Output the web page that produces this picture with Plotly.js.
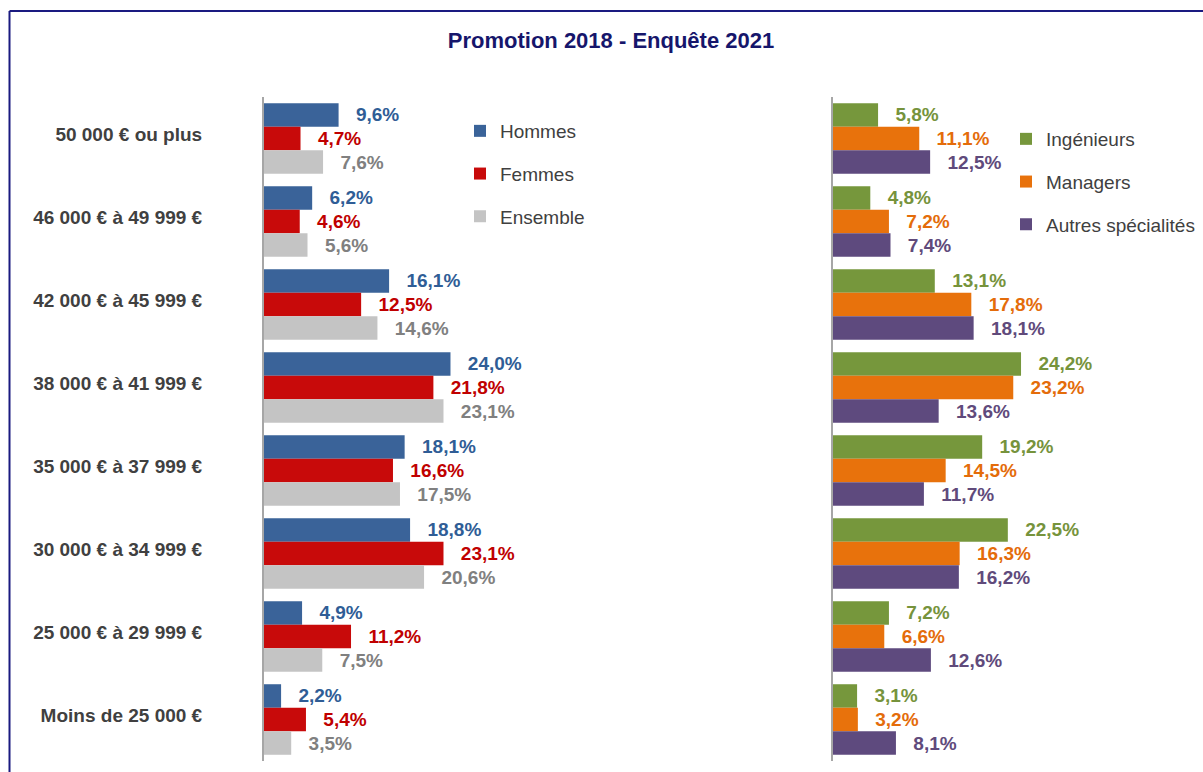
<!DOCTYPE html>
<html><head><meta charset="utf-8">
<script src="https://cdn.plot.ly/plotly-3.0.1.min.js"></script>
<style>html,body{margin:0;padding:0;background:#fff}#chart{width:1203px;height:772px}</style>
</head><body><div id="chart"></div>
<script>
// ---- data ----
const categories = ["50 000 € ou plus","46 000 € à 49 999 €","42 000 € à 45 999 €","38 000 € à 41 999 €","35 000 € à 37 999 €","30 000 € à 34 999 €","25 000 € à 29 999 €","Moins de 25 000 €"];
const hommes     = [9.6, 6.2, 16.1, 24.0, 18.1, 18.8, 4.9, 2.2];
const femmes     = [4.7, 4.6, 12.5, 21.8, 16.6, 23.1, 11.2, 5.4];
const ensemble   = [7.6, 5.6, 14.6, 23.1, 17.5, 20.6, 7.5, 3.5];
const ingenieurs = [5.8, 4.8, 13.1, 24.2, 19.2, 22.5, 7.2, 3.1];
const managers   = [11.1, 7.2, 17.8, 23.2, 14.5, 16.3, 6.6, 3.2];
const autres     = [12.5, 7.4, 18.1, 13.6, 11.7, 16.2, 12.6, 8.1];
const leftNames  = ["Hommes", "Femmes", "Ensemble"];
const rightNames = ["Ingénieurs", "Managers", "Autres spécialités"];
const titleText  = "Promotion 2018 - Enquête 2021";

// ---- layout helpers ----
const W = 1203, H = 772;
const fx = p => p / W;
const fy = p => 1 - p / H;
const SCALE = 7.77; // px per %
const FONT = "Liberation Sans, Arial, sans-serif";

function bar(name, values, xa, ya, color, textColor, legend) {
  return {
    type: 'bar', orientation: 'h', name: name, x: values, y: categories,
    xaxis: xa, yaxis: ya, legend: legend, legendgroup: name,
    marker: {color: color, line: {width: 0}},
    texttemplate: '\u00a0\u00a0\u2009%{x:.1f}%', textposition: 'outside',
    cliponaxis: false, constraintext: 'none',
    textfont: {family: FONT, size: 19, weight: 'bold', color: textColor},
    hoverinfo: 'skip'
  };
}

const data = [
  bar(leftNames[0], hommes, 'x', 'y', '#3A6399', '#2F5D96', 'legend'),
  bar(leftNames[1], femmes, 'x', 'y', '#C80A0A', '#C00000', 'legend'),
  bar(leftNames[2], ensemble, 'x', 'y', '#C4C4C4', '#808080', 'legend'),
  bar(rightNames[0], ingenieurs, 'x2', 'y2', '#76973C', '#76933C', 'legend2'),
  bar(rightNames[1], managers, 'x2', 'y2', '#E8720C', '#E46C0A', 'legend2'),
  bar(rightNames[2], autres, 'x2', 'y2', '#5E4A7E', '#604A7B', 'legend2')
];

const legendBase = {
  font: {family: FONT, size: 19, color: '#404040'},
  bgcolor: 'rgba(0,0,0,0)', borderwidth: 0,
  traceorder: 'grouped', tracegroupgap: 15,
  xanchor: 'left', yanchor: 'top'
};

const catAxis = {
  type: 'category', autorange: 'reversed', domain: [fy(761), fy(97)],
  showline: true, linecolor: '#A6A6A6', linewidth: 2, ticks: '',
  showgrid: false, zeroline: false, fixedrange: true
};

const layout = {
  width: W, height: H,
  margin: {l: 0, r: 0, t: 0, b: 0, pad: 0},
  paper_bgcolor: '#ffffff', plot_bgcolor: 'rgba(0,0,0,0)',
  separators: ', ',
  barmode: 'group', bargap: 0.15, bargroupgap: 0,
  title: {
    text: titleText, x: fx(611), xanchor: 'center', y: fy(40), yanchor: 'middle',
    font: {family: FONT, size: 22, weight: 'bold', color: '#16166B'}
  },
  xaxis: {domain: [fx(264), fx(760)], range: [0, (760 - 264) / SCALE], visible: false, fixedrange: true},
  xaxis2: {domain: [fx(833), fx(1203)], range: [0, (1203 - 833) / SCALE], visible: false, fixedrange: true, anchor: 'y2'},
  yaxis: Object.assign({}, catAxis, {
    anchor: 'x', ticklabelstandoff: 56, ticklabelshift: 4,
    tickfont: {family: FONT, size: 19, weight: 'bold', color: '#404040'}
  }),
  yaxis2: Object.assign({}, catAxis, {anchor: 'x2', showticklabels: false}),
  legend: Object.assign({}, legendBase, {x: fx(460), y: fy(112)}),
  legend2: Object.assign({}, legendBase, {x: fx(1006), y: fy(120)}),
  shapes: [
    {type: 'line', xref: 'paper', yref: 'paper', x0: fx(9.5), x1: fx(9.5), y0: fy(11), y1: fy(780), line: {color: '#1A1A80', width: 2}},
    {type: 'line', xref: 'paper', yref: 'paper', x0: fx(9.5), x1: fx(1210), y0: fy(11), y1: fy(11), line: {color: '#1A1A80', width: 2}}
  ],
  showlegend: true
};

Plotly.newPlot('chart', data, layout, {displayModeBar: false, staticPlot: true});
</script>
</body></html>
